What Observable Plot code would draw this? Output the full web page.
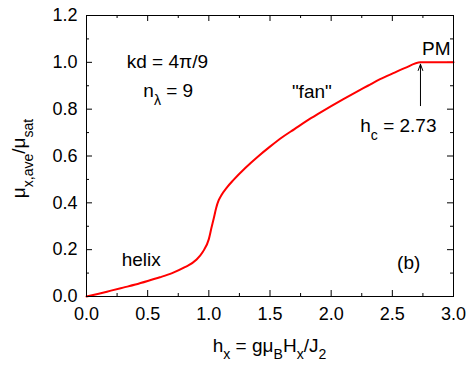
<!DOCTYPE html>
<html>
<head>
<meta charset="utf-8">
<script src="https://cdn.jsdelivr.net/npm/d3@7"></script>
<script src="https://cdn.jsdelivr.net/npm/@observablehq/plot@0.6"></script>
<style>
  html, body { margin: 0; padding: 0; background: #fff; }
  svg text { font-family: "Liberation Sans", Arial, Helvetica, sans-serif; }
</style>
</head>
<body>
<div id="chart"></div>
<script>
// ---- data ----
const hx = [0, 0.1, 0.2, 0.3, 0.4, 0.5, 0.6, 0.7, 0.8, 0.9, 0.95, 1.0, 1.02, 1.04, 1.06, 1.08, 1.1, 1.15, 1.2, 1.3, 1.4, 1.5, 1.6, 1.7, 1.8, 1.9, 2.0, 2.1, 2.2, 2.3, 2.4, 2.5, 2.6, 2.73, 2.8, 2.9, 3.0];
const mu = [0, 0.012, 0.025, 0.038, 0.051, 0.066, 0.082, 0.100, 0.124, 0.158, 0.19, 0.245, 0.29, 0.333, 0.378, 0.41, 0.43, 0.467, 0.497, 0.55, 0.597, 0.64, 0.68, 0.715, 0.75, 0.782, 0.813, 0.843, 0.872, 0.90, 0.928, 0.952, 0.975, 1.0, 1.0, 1.0, 1.0];

const xMajor = [0, 0.5, 1.0, 1.5, 2.0, 2.5, 3.0];
const xMinor = [0.25, 0.75, 1.25, 1.75, 2.25, 2.75];
const yMajor = [0, 0.2, 0.4, 0.6, 0.8, 1.0, 1.2];
const yMinor = [0.1, 0.3, 0.5, 0.7, 0.9, 1.1];

// critical field arrow
const hc = 2.73;
const arrowFrom = 0.815;
const arrowTo = 0.992;

// annotations: [x, y, parts] where parts = [text, isSubscript]
const annotations = [
  [0.333, 0.972, [["kd = 4π/9", false]]],
  [0.469, 0.850, [["n", false], ["λ", true], [" = 9", false]]],
  [1.683, 0.844, [["\"fan\"", false]]],
  [2.747, 1.029, [["PM", false]]],
  [2.242, 0.700, [["h", false], ["c", true], [" = 2.73", false]]],
  [0.292, 0.130, [["helix", false]]],
  [2.543, 0.116, [["(b)", false]]]
];
const xTitle = [["h", false], ["x", true], [" = gμ", false], ["B", true], ["H", false], ["x", true], ["/J", false], ["2", true]];
const yTitle = [["μ", false], ["x,ave", true], ["/μ", false], ["sat", true]];

const data = hx.map((x, i) => ({x, y: mu[i]}));
const fmt = d => d.toFixed(1);

const W = 471, H = 371, mL = 86, mR = 18, mT = 15, mB = 75;
const fw = W - mL - mR, fh = H - mT - mB;
const major = 6, minor = 3;

const chart = Plot.plot({
  width: W,
  height: H,
  marginLeft: mL,
  marginRight: mR,
  marginTop: mT,
  marginBottom: mB,
  style: {background: "#fff", color: "#000", fontFamily: "Liberation Sans, Arial, sans-serif"},
  x: {domain: [0, 3], axis: null},
  y: {domain: [0, 1.2], axis: null},
  marks: [
    // tick labels
    Plot.axisX(xMajor, {anchor: "bottom", tickSize: 0, tickPadding: 11, tickFormat: fmt, fontSize: 18, label: null}),
    Plot.axisY(yMajor, {anchor: "left", tickSize: 0, tickPadding: 9, tickFormat: fmt, fontSize: 18, label: null}),
    // inward ticks: bottom / top
    Plot.tickX(xMajor, {x: d => d, insetTop: fh - major, stroke: "#000"}),
    Plot.tickX(xMinor, {x: d => d, insetTop: fh - minor, stroke: "#000"}),
    Plot.tickX(xMajor, {x: d => d, insetBottom: fh - major, stroke: "#000"}),
    Plot.tickX(xMinor, {x: d => d, insetBottom: fh - minor, stroke: "#000"}),
    // inward ticks: left / right
    Plot.tickY(yMajor, {y: d => d, insetRight: fw - major, stroke: "#000"}),
    Plot.tickY(yMinor, {y: d => d, insetRight: fw - minor, stroke: "#000"}),
    Plot.tickY(yMajor, {y: d => d, insetLeft: fw - major, stroke: "#000"}),
    Plot.tickY(yMinor, {y: d => d, insetLeft: fw - minor, stroke: "#000"}),
    Plot.line(data, {x: "x", y: "y", stroke: "#ff0000", strokeWidth: 2, curve: "monotone-x"}),
    Plot.arrow([{x: hc, y1: arrowFrom, y2: arrowTo}], {x1: "x", x2: "x", y1: "y1", y2: "y2", stroke: "#000", strokeWidth: 1, headLength: 10, headAngle: 40}),
    Plot.frame({stroke: "#000", strokeWidth: 1})
  ]
});

const sx = chart.scale("x"), sy = chart.scale("y");
const svg = d3.select(chart);

function addRich(sel, parts, size) {
  let prevSub = false;
  for (const [t, sub] of parts) {
    if (sub) {
      sel.append("tspan").attr("font-size", size * 0.74).attr("dy", prevSub ? 0 : size * 0.42).text(t);
    } else {
      sel.append("tspan").attr("font-size", size).attr("dy", prevSub ? -size * 0.42 : 0).text(t);
    }
    prevSub = sub;
  }
}

for (const [x, y, parts] of annotations) {
  const t = svg.append("text")
    .attr("x", sx.apply(x)).attr("y", sy.apply(y))
    .attr("text-anchor", "start")
    .attr("fill", "#000").attr("font-size", 19);
  addRich(t, parts, 19);
}

// x-axis title
const xt = svg.append("text")
  .attr("x", (sx.apply(0) + sx.apply(3)) / 2).attr("y", 351.5)
  .attr("text-anchor", "middle").attr("fill", "#000").attr("font-size", 19);
addRich(xt, xTitle, 19);

// y-axis title
const yt = svg.append("text")
  .attr("transform", `translate(25,${(sy.apply(0) + sy.apply(1.2)) / 2 + 3}) rotate(-90)`)
  .attr("text-anchor", "middle").attr("fill", "#000").attr("font-size", 19);
addRich(yt, yTitle, 19);

document.getElementById("chart").appendChild(chart);
</script>
</body>
</html>
